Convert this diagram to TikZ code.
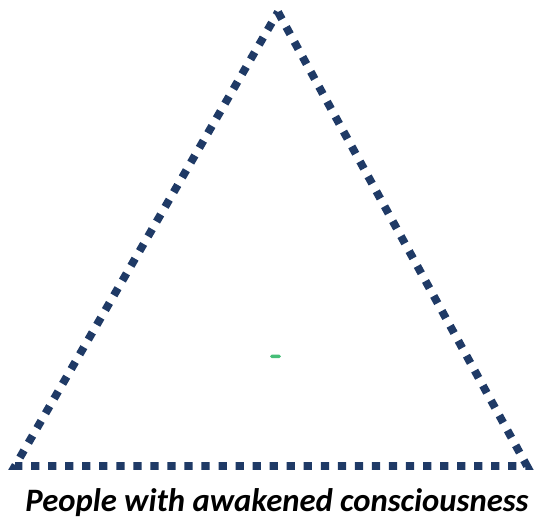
\documentclass[tikz,border=0pt]{standalone}
\usepackage{fontspec}
\setmainfont{Carlito}
\definecolor{edgeblue}{RGB}{31,58,102}
\definecolor{markgreen}{RGB}{70,190,120}
\tikzset{
  triedge/.style={draw=edgeblue, line width=4.5pt, dash pattern=on 4.7pt off 5pt, line join=miter},
  awaketext/.style={font=\fontsize{18.6}{22}\selectfont\bfseries\itshape, inner sep=0pt}
}
\begin{document}
\begin{tikzpicture}[x=0.02cm, y=-0.02cm]
        \useasboundingbox (0,0) rectangle (538,522);

        % Triangle outline
        \coordinate (apex) at (278,12);
        \coordinate (right) at (527,466);
        \coordinate (left) at (15,466);
        \draw[triedge] (apex) -- (right) -- (left) -- cycle;

        % Small green mark
        \fill[markgreen, rounded corners=1pt] (270,354.5) rectangle (281,358);

        % Caption
        \node[awaketext] (caption) at (277,503) {People with awakened consciousness};
    \end{tikzpicture}
\end{document}
